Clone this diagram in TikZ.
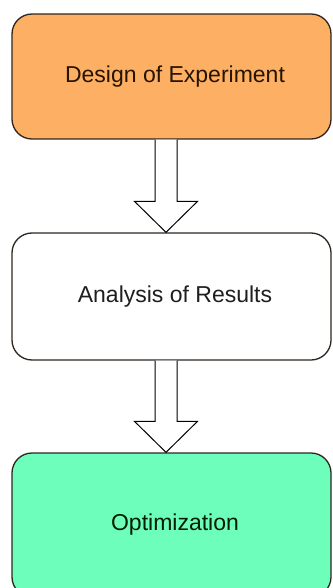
\documentclass[tikz,border=0pt]{standalone}
\usepackage{fontspec}
\setmainfont{Liberation Sans}
\usetikzlibrary{calc}
\definecolor{orangefill}{HTML}{FDB063}
\definecolor{greenfill}{HTML}{6CFEBA}
\definecolor{boxline}{HTML}{2E2620}
\tikzset{
  flowbox/.style={draw=boxline, line width=1.3pt, rounded corners=20pt,
    minimum width=319pt, inner sep=0pt, font=\fontsize{23}{27}\selectfont},
  blockarrow/.style={draw=black, fill=white, line width=1pt, line join=miter}
}
\begin{document}
\begin{tikzpicture}[x=1pt,y=-1pt]
\useasboundingbox (0,0) rectangle (332,588);
\clip (0,0) rectangle (332,588);
\node[flowbox, fill=orangefill, minimum height=125pt, text=black!85!orange] (b1) at (171.5,76.5) {\hspace*{7pt}Design of Experiment};
\node[flowbox, fill=white, minimum height=127pt, text=black!88] (b2) at (171.5,296.5) {\hspace*{7pt}Analysis of Results};
\node[flowbox, fill=greenfill, minimum height=144pt, text=black!80!green!60!black] (b3) at (171.5,525) {\hspace*{7pt}Optimization};
% arrow 1
\coordinate (a1) at ($(b1.south)+(-5.5,0)$);
\coordinate (t1) at ($(b2.north)+(-5.5,0)$);
\draw[blockarrow] ($(a1)+(-11,0)$) -- ($(t1)+(-11,-31)$) -- ($(t1)+(-31.5,-31)$) -- (t1)
  -- ($(t1)+(31.5,-31)$) -- ($(t1)+(11,-31)$) -- ($(a1)+(11,0)$);
% arrow 2
\coordinate (a2) at ($(b2.south)+(-5.5,0)$);
\coordinate (t2) at ($(b3.north)+(-5.5,0)$);
\draw[blockarrow] ($(a2)+(-11,0)$) -- ($(t2)+(-11,-31)$) -- ($(t2)+(-31.5,-31)$) -- (t2)
  -- ($(t2)+(31.5,-31)$) -- ($(t2)+(11,-31)$) -- ($(a2)+(11,0)$);
\end{tikzpicture}
\end{document}
